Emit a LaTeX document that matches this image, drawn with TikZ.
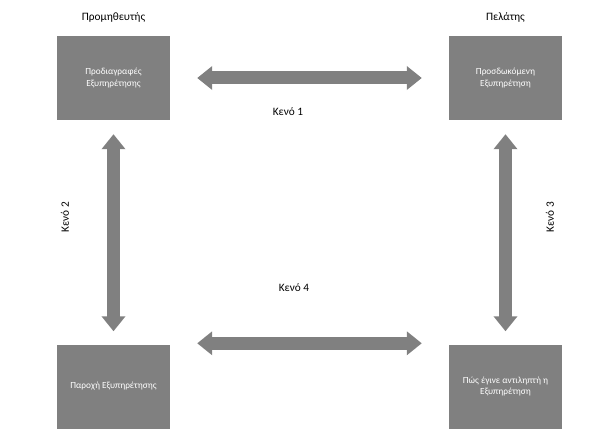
\documentclass[tikz,border=0pt]{standalone}
\usepackage{fontspec}
\setmainfont{Carlito}
\usetikzlibrary{arrows.meta,positioning}

\tikzset{
    box/.style = {fill = black!50, draw = none, minimum width = 113pt, minimum height = 84pt,
        text = white, align = center, font = \fontsize{9.3}{11.5}\selectfont},
    gap/.style = {font = \fontsize{11.3}{13}\selectfont},
    blockarrow/.style = {draw = black!50, line width = 13pt,
        {Triangle[length = 15pt, width = 23pt]}-{Triangle[length = 15pt, width = 23pt]}}
}

\begin{document}
\begin{tikzpicture}[x = 1pt, y = -1pt]

        \useasboundingbox (0,0) rectangle (597,446);
        % Define boxes
        \node[box] (spec) at (113.5,78) {Προδιαγραφές\\Εξυπηρέτησης};
        \node[box] (expect) at (505.5,78) {Προσδωκόμενη\\Εξυπηρέτηση};
        \node[box] (deliver) at (113.5,386.5) {Παροχή Εξυπηρέτησης};
        \node[box] (perceive) at (505.5,386.5) {Πώς έγινε αντιληπτή η\\Εξυπηρέτηση};
        \node[gap, above = 10pt of spec] (provider) {Προμηθευτής};
        \node[gap, above = 10pt of expect] (client) {Πελάτης};
        \draw[blockarrow, shorten < = 27pt, shorten > = 27pt] (spec) -- (expect);
        \draw[blockarrow, shorten < = 14pt, shorten > = 13pt] (spec) -- (deliver);
        \draw[blockarrow, shorten < = 14pt, shorten > = 13pt] (expect) -- (perceive);
        \draw[blockarrow, shorten < = 27pt, shorten > = 27pt] ([yshift = 1pt]deliver.north east) -- ([yshift = 1pt]perceive.north west);
        \node[gap] (gap1) at (288,112) {Κενό 1};
        \node[gap, rotate = 90] (gap2) at (65,217) {Κενό 2};
        \node[gap, rotate = 90] (gap3) at (550,217) {Κενό 3};
        \node[gap] (gap4) at (294,288) {Κενό 4};
    \end{tikzpicture}
\end{document}
